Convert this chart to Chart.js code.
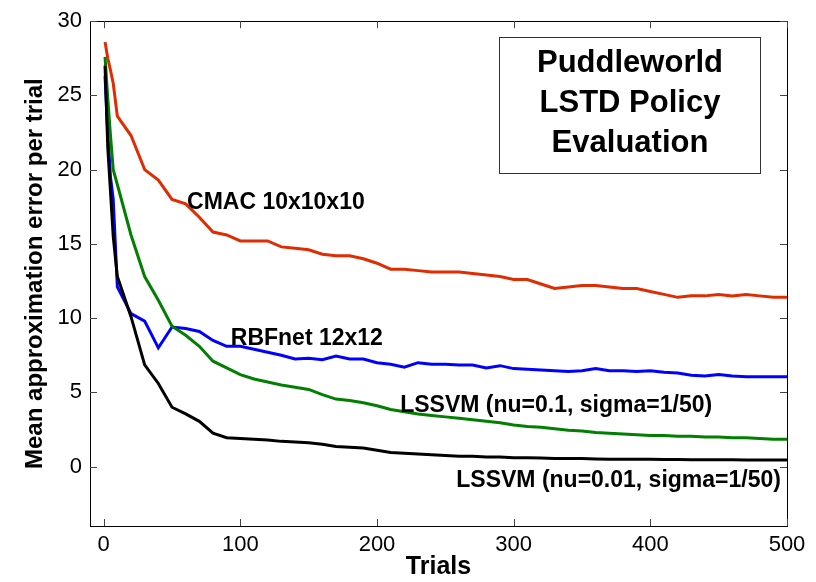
<!DOCTYPE html>
<html>
<head>
<meta charset="utf-8">
<script src="https://cdn.jsdelivr.net/npm/chart.js@4/dist/chart.umd.min.js"></script>
<style>
  html, body { margin: 0; padding: 0; background: #fff; }
  #wrap { width: 816px; height: 582px; }
</style>
</head>
<body>
<div id="wrap"><canvas id="chart" width="816" height="582"></canvas></div>
<script>
// --------------------
// Data
// --------------------
const trials = [1, 3, 5, 7, 10, 20, 30, 40, 50, 60, 70, 80, 90, 100, 110, 120, 130, 140, 150, 160,
    170, 180, 190, 200, 210, 220, 230, 240, 250, 260, 270, 280, 290, 300, 310, 320, 330, 340, 350,
    360, 370, 380, 390, 400, 410, 420, 430, 440, 450, 460, 470, 480, 490, 500];

const cmac = [28.6, 27.5, 26.7, 25.8, 23.6, 22.3, 20.0, 19.3, 18.0, 17.7, 16.8, 15.8, 15.6, 15.2, 15.2,
    15.2, 14.8, 14.7, 14.6, 14.3, 14.2, 14.2, 14.0, 13.7, 13.3, 13.3, 13.2, 13.1, 13.1, 13.1, 13.0,
    12.9, 12.8, 12.6, 12.6, 12.3, 12.0, 12.1, 12.2, 12.2, 12.1, 12.0, 12.0, 11.8, 11.6, 11.4, 11.5,
    11.5, 11.6, 11.5, 11.6, 11.5, 11.4, 11.4];

const rbfnet = [26.3, 22.5, 19.5, 18.0, 12.1, 10.3, 9.8, 8.0, 9.4, 9.3, 9.1, 8.5, 8.1, 8.1, 7.9, 7.7,
    7.5, 7.25, 7.3, 7.2, 7.45, 7.25, 7.25, 7.0, 6.9, 6.7, 7.0, 6.9, 6.9, 6.85, 6.85, 6.65, 6.8, 6.6,
    6.55, 6.5, 6.45, 6.4, 6.45, 6.6, 6.45, 6.45, 6.4, 6.45, 6.35, 6.3, 6.15, 6.1, 6.2, 6.1, 6.05, 6.05,
    6.05, 6.05];

const lssvmNu01 = [27.6, 24.8, 22.3, 20.0, 19.0, 15.6, 12.8, 11.2, 9.45, 8.85, 8.1, 7.1, 6.65, 6.2, 5.9,
    5.7, 5.5, 5.35, 5.2, 4.85, 4.55, 4.45, 4.3, 4.1, 3.85, 3.7, 3.55, 3.45, 3.35, 3.25, 3.15, 3.05,
    2.95, 2.8, 2.7, 2.65, 2.55, 2.45, 2.4, 2.3, 2.25, 2.2, 2.15, 2.1, 2.1, 2.05, 2.05, 2.0, 2.0, 1.95,
    1.95, 1.9, 1.85, 1.85];

const lssvmNu001 = [27.0, 21.5, 18.5, 15.5, 12.8, 10.1, 6.85, 5.6, 4.0, 3.55, 3.05, 2.25, 1.95, 1.9,
    1.85, 1.8, 1.7, 1.65, 1.6, 1.5, 1.35, 1.3, 1.25, 1.1, 0.95, 0.9, 0.85, 0.8, 0.75, 0.7, 0.7, 0.65,
    0.65, 0.6, 0.6, 0.58, 0.55, 0.55, 0.55, 0.52, 0.5, 0.5, 0.5, 0.5, 0.48, 0.48, 0.47, 0.47, 0.46,
    0.46, 0.45, 0.45, 0.45, 0.45];

const xTicks = [0, 100, 200, 300, 400, 500];
const yTicks = [0, 5, 10, 15, 20, 25, 30];

const seriesNames = ['CMAC 10x10x10', 'RBFnet 12x12', 'LSSVM (nu=0.1, sigma=1/50)', 'LSSVM (nu=0.01, sigma=1/50)'];
const titleLines = ['Puddleworld', 'LSTD Policy', 'Evaluation'];

const FONT = "'Liberation Sans', Arial, Helvetica, sans-serif";

function toPoints(ys) {
    return trials.map((t, i) => ({ x: t, y: ys[i] }));
}

// curve labels, anchored in data units (left edge, baseline)
const curveLabels = [
    { text: seriesNames[0], x: 61, y: 17.37 },
    { text: seriesNames[1], x: 93, y: 8.18 },
    { text: seriesNames[2], x: 217, y: 3.66 },
    { text: seriesNames[3], x: 258, y: -1.4 },
];

// box frame, inward ticks on all sides, curve labels and the title box
const framePlugin = {
    id: 'frame',
    afterDatasetsDraw(chart) {
        const { ctx, chartArea: a, scales: { x, y } } = chart;
        const tl = 7;
        ctx.save();
        ctx.strokeStyle = '#000';
        ctx.lineWidth = 1;
        ctx.strokeRect(Math.round(a.left) + 0.5, Math.round(a.top) + 0.5,
            Math.round(a.right - a.left), Math.round(a.bottom - a.top));
        ctx.strokeStyle = '#444';
        ctx.beginPath();
        xTicks.forEach(v => {
            const px = Math.round(x.getPixelForValue(v)) + 0.5;
            ctx.moveTo(px, a.bottom); ctx.lineTo(px, a.bottom - tl);
            ctx.moveTo(px, a.top); ctx.lineTo(px, a.top + tl);
        });
        yTicks.forEach(v => {
            const py = Math.round(y.getPixelForValue(v)) + 0.5;
            ctx.moveTo(a.left, py); ctx.lineTo(a.left + tl, py);
            ctx.moveTo(a.right, py); ctx.lineTo(a.right - tl, py);
        });
        ctx.stroke();

        ctx.fillStyle = '#000';
        ctx.font = 'bold 23px ' + FONT;
        ctx.textAlign = 'left';
        ctx.textBaseline = 'alphabetic';
        curveLabels.forEach(l => {
            ctx.fillText(l.text, x.getPixelForValue(l.x), y.getPixelForValue(l.y));
        });

        // title box
        ctx.fillStyle = '#fff';
        ctx.fillRect(499, 37, 261, 136);
        ctx.strokeStyle = '#333';
        ctx.strokeRect(499.5, 37.5, 261, 136);
        ctx.fillStyle = '#000';
        ctx.font = 'bold 31px ' + FONT;
        ctx.textAlign = 'center';
        titleLines.forEach((t, i) => ctx.fillText(t, 630, 72 + i * 40));
        ctx.restore();
    }
};

const lineStyle = { borderWidth: 3, pointRadius: 0, tension: 0, fill: false };

const data = {
    datasets: [
        { label: seriesNames[3], data: toPoints(lssvmNu001), borderColor: '#000000', ...lineStyle },
        { label: seriesNames[2], data: toPoints(lssvmNu01), borderColor: '#007f00', ...lineStyle },
        { label: seriesNames[1], data: toPoints(rbfnet), borderColor: '#0000ff', ...lineStyle },
        { label: seriesNames[0], data: toPoints(cmac), borderColor: '#e02c00', ...lineStyle },
    ]
};

const config = {
    type: 'line',
    data: data,
    options: {
        responsive: false,
        animation: false,
        layout: { padding: { top: 14, right: 29, left: 0, bottom: 0 } },
        plugins: {
            legend: { display: false },
            tooltip: { enabled: false },
        },
        scales: {
            x: {
                type: 'linear',
                min: -10,
                max: 500,
                grid: { display: false, drawTicks: false },
                border: { display: false },
                afterBuildTicks: (s) => { s.ticks = xTicks.map(v => ({ value: v })); },
                afterFit: (s) => { s.height = 56; },
                ticks: { color: '#000', padding: 6, maxRotation: 0, font: { family: FONT, size: 22 } },
                title: {
                    display: true, text: 'Trials', color: '#000',
                    padding: { top: 0, bottom: 0 },
                    font: { family: FONT, size: 25, weight: 'bold' }
                }
            },
            y: {
                type: 'linear',
                min: -4,
                max: 30,
                grid: { display: false, drawTicks: false },
                border: { display: false },
                afterBuildTicks: (s) => { s.ticks = yTicks.map(v => ({ value: v })); },
                afterFit: (s) => { s.width = 90; },
                ticks: { color: '#000', padding: 8, font: { family: FONT, size: 22 } },
                title: {
                    display: true, text: 'Mean approximation error per trial', color: '#000',
                    padding: { top: 21, bottom: 0 },
                    font: { family: FONT, size: 24, weight: 'bold' }
                }
            }
        }
    },
    plugins: [framePlugin]
};

new Chart(document.getElementById('chart'), config);
</script>
</body>
</html>
